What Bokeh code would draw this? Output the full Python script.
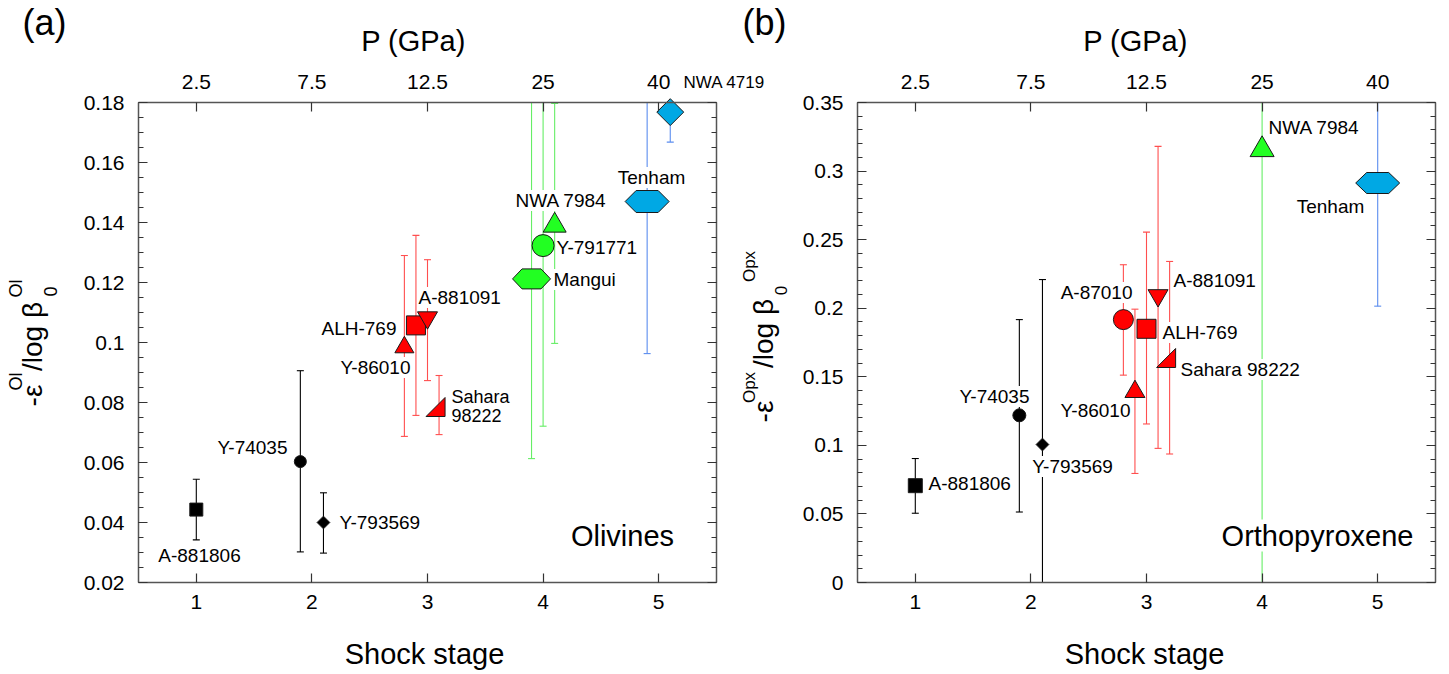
import numpy as np
from math import pi
from bokeh.plotting import figure
from bokeh.models import (LinearAxis, FixedTicker, Label, Range1d, Grid,
                          CustomJSTickFormatter, ColumnDataSource)
from bokeh.embed import file_html
from bokeh.resources import INLINE

FONT = "Liberation Sans"

# ---------------- shared axis data ----------------
stage_ticks = [1, 2, 3, 4, 5]
stage_labels = ["1", "2", "3", "4", "5"]
pressure_labels = ["2.5", "7.5", "12.5", "25", "40"]

# ---------------- (a) olivine ----------------
ol_yticks = [0.02, 0.04, 0.06, 0.08, 0.1, 0.12, 0.14, 0.16, 0.18]
ol_ylabels = ["0.02", "0.04", "0.06", "0.08", "0.1", "0.12", "0.14", "0.16", "0.18"]
ol_names = ["A-881806", "Y-74035", "Y-793569", "Y-86010", "ALH-769", "A-881091",
            "Sahara 98222", "Mangui", "Y-791771", "NWA 7984", "Tenham", "NWA 4719"]
ol_stage = [1.0, 1.9, 2.1, 2.8, 2.9, 3.0, 3.1, 3.9, 4.0, 4.1, 4.9, 5.1]
ol_value = [0.0443, 0.0603, 0.040, 0.0984, 0.1057, 0.1083, 0.0785, 0.1212, 0.1323, 0.139, 0.147, 0.1768]
ol_lower = [0.0342, 0.0302, 0.0298, 0.0687, 0.0757, 0.0873, 0.0693, 0.0613, 0.0721, 0.0997, 0.0963, 0.1668]
ol_upper = [0.0544, 0.0906, 0.0499, 0.129, 0.1357, 0.1276, 0.089, 0.19, 0.19, 0.1797, 0.19, 0.19]
ol_group = ["k", "k", "k", "r", "r", "r", "r", "g", "g", "g", "b", "b"]

# ---------------- (b) orthopyroxene ----------------
opx_yticks = [0.0, 0.05, 0.1, 0.15, 0.2, 0.25, 0.3, 0.35]
opx_ylabels = ["0", "0.05", "0.1", "0.15", "0.2", "0.25", "0.3", "0.35"]
opx_names = ["A-881806", "Y-74035", "Y-793569", "A-87010", "Y-86010", "ALH-769",
             "A-881091", "Sahara 98222", "NWA 7984", "Tenham"]
opx_stage = [1.0, 1.9, 2.1, 2.8, 2.9, 3.0, 3.1, 3.2, 4.0, 5.0]
opx_value = [0.0706, 0.1219, 0.1006, 0.1917, 0.1391, 0.185, 0.2093, 0.1637, 0.3156, 0.2913]
opx_lower = [0.0505, 0.0514, -0.01, 0.1512, 0.0795, 0.1156, 0.0978, 0.0937, -0.01, 0.2015]
opx_upper = [0.0904, 0.1917, 0.2209, 0.2317, 0.1993, 0.2555, 0.318, 0.2341, 0.36, 0.36]
opx_group = ["k", "k", "k", "r", "r", "r", "r", "r", "g", "b"]

# ---------------- styles ----------------
FILL = {"k": "#000000", "r": "#ff0000", "g": "#22ff22", "b": "#00a8e4"}
BAR = {"k": "#000000", "r": "#ff4f4f", "g": "#66ee66", "b": "#5b8def"}
EDGE = "#1a1a1a"

ol_marker = ["square", "circle", "diamond", "triangle", "square", "inverted_triangle",
             "wedge", "hex", "circle", "triangle", "hex", "diamond"]
ol_msize = [13, 12, 9, 19, 19, 20, 19, (38, 20), 22, 23, (44, 22), 19]
opx_marker = ["square", "circle", "diamond", "circle", "triangle", "square",
              "inverted_triangle", "wedge", "triangle", "hex"]
opx_msize = [14, 13, 9, 20, 20, 19, 20, 19, 24, (44, 21)]

W, H = 1445, 670
TOP, BOT = 102, 582            # canvas y of the boxes' top / bottom


class Geo:
    """maps canvas pixels of one panel box onto its data coordinates"""
    def __init__(self, left, right, ymin, ymax):
        self.left, self.right, self.ymin, self.ymax = left, right, ymin, ymax
        self.ux = 5.0 / (right - left)
        self.uy = (ymax - ymin) / (BOT - TOP)

    def x(self, px):
        return 0.5 + (px - self.left) * self.ux

    def y(self, py):
        return self.ymin + (BOT - py) * self.uy


ga = Geo(138, 716, 0.02, 0.18)
gb = Geo(857, 1435, 0.0, 0.35)

p = figure(width=W, height=H, x_range=Range1d(ga.x(0), ga.x(W)),
           y_range=Range1d(ga.y(H), ga.y(0)), x_axis_location=None,
           y_axis_location=None, min_border=0, output_backend="svg",
           toolbar_location=None)
p.extra_x_ranges = {"bx": Range1d(gb.x(0), gb.x(W))}
p.extra_y_ranges = {"by": Range1d(gb.y(H), gb.y(0))}
p.center = [r for r in p.center if not isinstance(r, Grid)]
p.outline_line_color = None
p.background_fill_color = "white"
p.border_fill_color = "white"


def style_axis(ax, standoff):
    ax.axis_line_color = "#555555"
    ax.axis_line_width = 1.5
    ax.major_tick_line_color = "#333333"
    ax.major_tick_line_width = 1.2
    ax.major_tick_in = 9
    ax.major_tick_out = 0
    ax.minor_tick_line_color = "#333333"
    ax.minor_tick_in = 5
    ax.minor_tick_out = 0
    ax.major_label_text_font = FONT
    ax.major_label_text_font_size = "21px"
    ax.major_label_text_color = "black"
    ax.major_label_standoff = standoff


def add_axes(geo, rn, yticks, ylabels, yminor):
    x0, x1, y0, y1 = 0.5, 5.5, geo.ymin, geo.ymax
    bottom = LinearAxis(fixed_location=y0, bounds=(x0, x1),
                        ticker=FixedTicker(ticks=stage_ticks, minor_ticks=[]),
                        major_label_overrides=dict(zip(stage_ticks, stage_labels)), **rn)
    top = LinearAxis(fixed_location=y1, bounds=(x0, x1),
                     ticker=FixedTicker(ticks=stage_ticks, minor_ticks=[]),
                     major_label_overrides=dict(zip(stage_ticks, pressure_labels)), **rn)
    left = LinearAxis(fixed_location=x0, bounds=(y0, y1),
                      ticker=FixedTicker(ticks=yticks, minor_ticks=yminor),
                      major_label_overrides=dict(zip(yticks, ylabels)), **rn)
    right = LinearAxis(fixed_location=x1, bounds=(y0, y1),
                       ticker=FixedTicker(ticks=yticks, minor_ticks=yminor),
                       formatter=CustomJSTickFormatter(code="return ''"), **rn)
    style_axis(bottom, 12)
    style_axis(top, 14)
    style_axis(left, 14)
    style_axis(right, 14)
    p.add_layout(bottom, "below")
    p.add_layout(top, "above")
    p.add_layout(left, "left")
    p.add_layout(right, "right")


def draw_points(geo, rn, xs, vals, lo, hi, groups, markers, sizes):
    y0, y1 = geo.ymin, geo.ymax
    lo_c = [max(v, y0) for v in lo]
    hi_c = [min(v, y1) for v in hi]
    src = ColumnDataSource(dict(x=xs, lo=lo_c, hi=hi_c, c=[BAR[g] for g in groups]))
    p.segment(x0="x", y0="lo", x1="x", y1="hi", line_color="c", line_width=1.1,
              source=src, **rn)
    cap_x, cap_y, cap_c = [], [], []
    for i in range(len(xs)):
        for v in (lo[i], hi[i]):
            if y0 <= v <= y1:
                cap_x.append(xs[i]); cap_y.append(v); cap_c.append(BAR[groups[i]])
    p.scatter(x=cap_x, y=cap_y, marker="dash", size=7, line_color=cap_c,
              line_width=1.1, **rn)
    for i in range(len(xs)):
        x, v, g, m, s = xs[i], vals[i], groups[i], markers[i], sizes[i]
        fill = FILL[g]
        if m == "hex":
            w, h = s
            dx, dy = w / 2 * geo.ux, h / 2 * geo.uy
            px = [x - dx, x - dx / 2, x + dx / 2, x + dx, x + dx / 2, x - dx / 2]
            py = [v, v + dy, v + dy, v, v - dy, v - dy]
            p.patch(px, py, fill_color=fill, line_color=EDGE, line_width=1, **rn)
        elif m == "wedge":
            xa, xb = x - 13 * geo.ux, x + 6 * geo.ux
            ya, yb = v - s / 2 * geo.uy, v + s / 2 * geo.uy
            p.patch([xa, xb, xb], [ya, ya, yb], fill_color=fill, line_color=EDGE,
                    line_width=1, **rn)
        elif m == "diamond":
            p.scatter(x=[x], y=[v], marker="square", angle=pi / 4, size=s,
                      fill_color=fill, line_color=EDGE, line_width=1, **rn)
        else:
            p.scatter(x=[x], y=[v], marker=m, size=s, fill_color=fill,
                      line_color=EDGE, line_width=1, **rn)


def add_text(px, py, text, size="19px", align="left", angle=0.0, bg="white"):
    p.add_layout(Label(x=ga.x(px), y=ga.y(py), text=text, text_font=FONT,
                       text_font_size=size, text_align=align, text_baseline="middle",
                       angle=angle, text_color="black", background_fill_color=bg))


# ---------------- panel (a) ----------------
rn_a = dict(x_range_name="default", y_range_name="default")
ol_minor = [float(v) for v in np.round(np.arange(0.02, 0.18001, 0.005), 4)]
draw_points(ga, rn_a, ol_stage, ol_value, ol_lower, ol_upper, ol_group, ol_marker, ol_msize)
add_axes(ga, rn_a, ol_yticks, ol_ylabels, ol_minor)

ol_label_pos = [(199, 555, "center"), (287, 447, "right"), (339, 522, "left"),
                (410, 367, "right"), (396, 328, "right"), (418, 297, "left"),
                (451, 396, "left"), (553, 279, "left"), (556, 247, "left"),
                (515, 200, "left"), (651, 177, "center"), (683, 82, "left")]
for name, (px, py, al) in zip(ol_names, ol_label_pos):
    if name == "Sahara 98222":
        a, b = name.split(" ")
        add_text(px, py, a, size="18px", align=al)
        add_text(px, py + 19, b, size="18px", align=al)
    elif name == "NWA 4719":
        add_text(px, py, name, size="17px", align=al)
    else:
        add_text(px, py, name, align=al)

add_text(622, 535, "Olivines", size="29px", align="center")
add_text(413, 40, "P (GPa)", size="29px", align="center", bg=None)
add_text(424, 653, "Shock stage", size="29px", align="center", bg=None)
add_text(44, 22, "(a)", size="36px", align="center", bg=None)
add_text(32, 395, "-ε", size="28px", align="center", angle=pi / 2, bg=None)
add_text(15, 381, "Ol", size="18px", align="center", angle=pi / 2, bg=None)
add_text(32, 336, "/log β", size="28px", align="center", angle=pi / 2, bg=None)
add_text(50, 291, "0", size="18px", align="center", angle=pi / 2, bg=None)
add_text(15, 288, "Ol", size="18px", align="center", angle=pi / 2, bg=None)

# ---------------- panel (b) ----------------
rn_b = dict(x_range_name="bx", y_range_name="by")
opx_minor = [float(v) for v in np.round(np.arange(0.0, 0.35001, 0.01), 4)]
draw_points(gb, rn_b, opx_stage, opx_value, opx_lower, opx_upper, opx_group, opx_marker, opx_msize)
add_axes(gb, rn_b, opx_yticks, opx_ylabels, opx_minor)

opx_label_pos = [(928, 483, "left"), (1029, 396, "right"), (1072, 466, "center"),
                 (1132, 292, "right"), (1130, 410, "right"), (1162, 332, "left"),
                 (1173, 280, "left"), (1180, 369, "left"), (1268, 127, "left"),
                 (1330, 206, "center")]
for name, (px, py, al) in zip(opx_names, opx_label_pos):
    add_text(px, py, name, align=al)

add_text(1317, 535, "Orthopyroxene", size="29px", align="center")
add_text(1135, 40, "P (GPa)", size="29px", align="center", bg=None)
add_text(1144, 653, "Shock stage", size="29px", align="center", bg=None)
add_text(764, 22, "(b)", size="36px", align="center", bg=None)
add_text(763, 411, "-ε", size="28px", align="center", angle=pi / 2, bg=None)
add_text(749, 387, "Opx", size="17px", align="center", angle=pi / 2, bg=None)
add_text(763, 333, "/log β", size="28px", align="center", angle=pi / 2, bg=None)
add_text(780, 290, "0", size="17px", align="center", angle=pi / 2, bg=None)
add_text(749, 266, "Opx", size="17px", align="center", angle=pi / 2, bg=None)

open("out.html", "w").write(file_html(p, INLINE))
